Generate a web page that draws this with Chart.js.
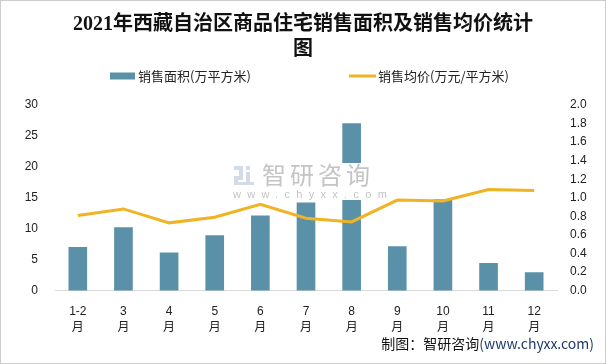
<!DOCTYPE html>
<html lang="zh">
<head>
<meta charset="UTF-8">
<title>2021年西藏自治区商品住宅销售面积及销售均价统计图</title>
<script src="https://cdn.jsdelivr.net/npm/chart.js"></script>
<style>
  html, body { margin: 0; padding: 0; background: #fff; }
  #wrap { width: 606px; height: 364px; position: relative; }
</style>
</head>
<body>
<div id="wrap"><canvas id="chart" width="606" height="364"></canvas></div>
<script>
  // данные
  const months = ['1-2', '3', '4', '5', '6', '7', '8', '9', '10', '11', '12'];
  const areaValues = [7.0, 10.2, 6.1, 8.9, 12.1, 14.2, 27.0, 7.1, 14.7, 4.4, 2.9];
  const priceValues = [0.81, 0.88, 0.73, 0.79, 0.93, 0.78, 0.74, 0.975, 0.965, 1.09, 1.08];
  const areaLabel = '销售面积(万平方米)';
  const priceLabel = '销售均价(万元/平方米)';
  const barColor = '#5b91a8';
  const lineColor = '#f0b323';
  const cjk = "'Noto Sans CJK SC', sans-serif";
  const tickFont = "'Liberation Sans', 'Noto Sans CJK SC', sans-serif";

  // легенда, водяной знак, подпись и рамка
  const extras = {
    id: 'extras',
    afterDatasetsDraw(chart) {
      const ctx = chart.ctx;
      ctx.save();
      ctx.fillStyle = '#fff';
      ctx.fillRect(230, 163, 146, 37);
      // logo
      ctx.fillStyle = '#d3dbe8';
      ctx.fillRect(234, 166, 9, 4);
      ctx.fillRect(239, 170, 4, 6);
      ctx.fillRect(234, 176, 9, 4);
      ctx.fillRect(234, 180, 4, 5);
      ctx.fillRect(246, 166, 4, 4);
      ctx.fillRect(246, 172, 4, 13);
      ctx.fillRect(234, 182, 20, 3);
      ctx.fillStyle = '#c4c4c4';
      ctx.font = '24px ' + cjk;
      ctx.textBaseline = 'middle';
      ctx.textAlign = 'left';
      ctx.letterSpacing = '4px';
      ctx.fillText('智研咨询', 262, 175);
      ctx.font = '11px ' + tickFont;
      ctx.letterSpacing = '6.3px';
      ctx.fillText('www.chyxx.com', 233, 195);
      ctx.restore();
    },
    afterDraw(chart) {
      const ctx = chart.ctx;
      ctx.save();
      // легенда
      ctx.font = '13px ' + cjk;
      ctx.textBaseline = 'middle';
      ctx.textAlign = 'left';
      const ly = 76;
      ctx.fillStyle = barColor;
      ctx.fillRect(110, ly - 3.5, 25, 7);
      ctx.fillStyle = '#222';
      ctx.fillText(areaLabel, 138, ly);
      ctx.strokeStyle = lineColor;
      ctx.lineWidth = 3;
      ctx.beginPath();
      ctx.moveTo(349, ly);
      ctx.lineTo(376, ly);
      ctx.stroke();
      ctx.fillText(priceLabel, 378, ly);
      // источник
      ctx.font = '14px ' + cjk;
      ctx.textAlign = 'right';
      const src2 = '(www.chyxx.com)';
      ctx.fillStyle = '#1f3a6e';
      ctx.fillText(src2, 594, 344);
      const w2 = ctx.measureText(src2).width;
      ctx.fillStyle = '#111';
      ctx.fillText('制图：智研咨询', 594 - w2, 344);
      // рамка
      ctx.strokeStyle = '#9a9a9a';
      ctx.lineWidth = 1;
      ctx.setLineDash([1, 1]);
      ctx.strokeRect(0.5, 0.5, 605, 363);
      ctx.restore();
    }
  };

  new Chart(document.getElementById('chart'), {
    data: {
      labels: months.map(m => [m, '月']),
      datasets: [
        {
          type: 'line',
          label: priceLabel,
          data: priceValues,
          yAxisID: 'y1',
          borderColor: lineColor,
          backgroundColor: lineColor,
          borderWidth: 3,
          pointRadius: 0,
          tension: 0,
          order: 0
        },
        {
          type: 'bar',
          label: areaLabel,
          data: areaValues,
          yAxisID: 'y',
          backgroundColor: barColor,
          barThickness: 18,
          order: 1
        }
      ]
    },
    options: {
      responsive: false,
      animation: false,
      events: [],
      layout: { padding: { left: 0, right: 0, top: 0, bottom: 15 } },
      plugins: {
        legend: { display: false },
        tooltip: { enabled: false },
        title: {
          display: true,
          text: ['2021年西藏自治区商品住宅销售面积及销售均价统计', '图'],
          color: '#111',
          font: { family: "'Liberation Serif', 'Noto Sans CJK SC', serif", size: 20, weight: 'bold', lineHeight: 1.25 },
          padding: { top: 12.5, bottom: 42.5 }
        }
      },
      scales: {
        x: {
          grid: { display: false, drawTicks: false },
          border: { display: true, color: '#d9d9d9', width: 1 },
          ticks: {
            color: '#222',
            padding: 13,
            maxRotation: 0,
            autoSkip: false,
            font: { family: tickFont, size: 12, lineHeight: 1.35 }
          }
        },
        y: {
          position: 'left',
          min: 0,
          max: 30,
          grid: { display: false, drawTicks: false },
          border: { display: false },
          ticks: { stepSize: 5, color: '#222', padding: 17, font: { family: tickFont, size: 12 } },
          afterFit(scale) { scale.width = 55; }
        },
        y1: {
          position: 'right',
          min: 0,
          max: 2,
          grid: { display: false, drawTicks: false },
          border: { display: false },
          ticks: {
            stepSize: 0.2,
            color: '#222',
            padding: 13,
            font: { family: tickFont, size: 12 },
            callback: v => v.toFixed(1)
          },
          afterFit(scale) { scale.width = 49; }
        }
      }
    },
    plugins: [extras]
  });
</script>
</body>
</html>
